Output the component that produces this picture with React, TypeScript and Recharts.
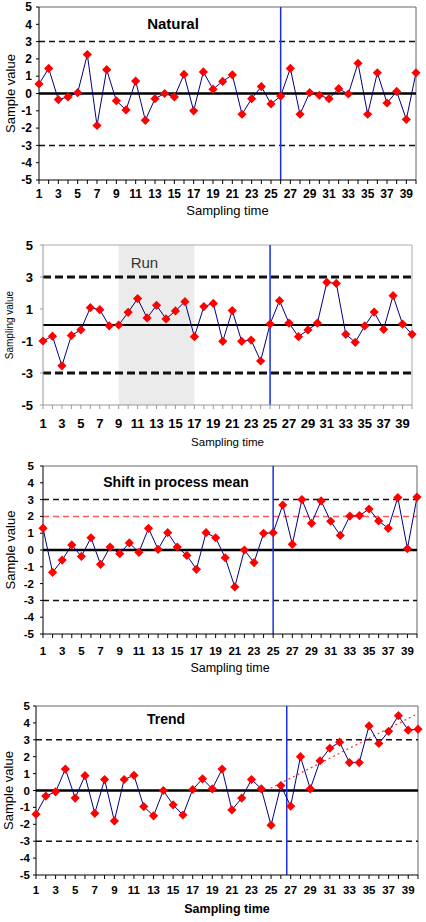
import React from 'react';
import { LineChart, Line, XAxis, YAxis, ReferenceLine, ReferenceArea, Label } from 'recharts';

// sampling times shared by all four control charts
const TIME = [
  1, 2, 3, 4, 5, 6, 7, 8, 9, 10, 11, 12, 13, 14, 15, 16, 17, 18, 19, 20,
  21, 22, 23, 24, 25, 26, 27, 28, 29, 30, 31, 32, 33, 34, 35, 36, 37, 38, 39, 40,
];

const Y_TICKS = [-5, -4, -3, -2, -1, 0, 1, 2, 3, 4, 5];
const Y_TICKS_ODD = [-5, -3, -1, 1, 3, 5];

const NATURAL = [
  0.55, 1.45, -0.35, -0.2, 0.05, 2.25, -1.85, 1.38, -0.42, -0.95,
  0.72, -1.55, -0.3, 0.0, -0.2, 1.1, -1.0, 1.25, 0.25, 0.7,
  1.08, -1.2, -0.3, 0.4, -0.6, -0.15, 1.45, -1.2, 0.05, -0.1,
  -0.3, 0.28, -0.03, 1.75, -1.2, 1.2, -0.55, 0.12, -1.5, 1.2,
];

const RUN = [
  -1.0, -0.7, -2.55, -0.65, -0.3, 1.08, 0.96, -0.05, 0.0, 0.79,
  1.65, 0.44, 1.23, 0.38, 0.88, 1.46, -0.73, 1.15, 1.35, -1.02,
  0.9, -1.02, -0.94, -2.25, 0.06, 1.52, 0.12, -0.73, -0.31, 0.12,
  2.67, 2.6, -0.58, -1.08, -0.06, 0.81, -0.27, 1.83, 0.06, -0.58,
];

const SHIFT = [
  1.3, -1.33, -0.6, 0.3, -0.38, 0.73, -0.85, 0.18, -0.22, 0.42,
  -0.14, 1.29, 0.04, 1.03, 0.18, -0.32, -1.15, 1.03, 0.73, -0.46,
  -2.2, 0.0, -0.75, 0.99, 1.03, 2.68, 0.34, 3.0, 1.59, 2.92,
  1.71, 0.87, 2.02, 2.05, 2.44, 1.73, 1.29, 3.12, 0.08, 3.15,
];

const TREND = [
  -1.4, -0.33, -0.08, 1.27, -0.45, 0.88, -1.35, 0.65, -1.8, 0.65,
  0.9, -0.95, -1.5, 0.0, -0.85, -1.45, 0.06, 0.69, 0.1, 1.27,
  -1.15, -0.45, 0.65, 0.1, -2.05, 0.29, -0.93, 2.0, 0.1, 1.76,
  2.5, 2.86, 1.65, 1.65, 3.82, 2.78, 3.5, 4.43, 3.57, 3.63,
];

// fitted trend line end points (time, value)
const TREND_FIT = [
  { x: 24.5, y: 0 },
  { x: 39.7, y: 4.47 },
];

const FONT = '"Liberation Sans", Arial, sans-serif';

const Diamond = (props: any) => {
  const { cx, cy } = props;
  if (cx == null || cy == null) return null;
  const r = 4.6;
  return (
    <polygon
      key={`d-${cx}`}
      points={`${cx},${cy - r} ${cx + r},${cy} ${cx},${cy + r} ${cx - r},${cy}`}
      fill="#ff0000"
    />
  );
};

interface PanelProps {
  top: number;
  height: number;
  values: number[];
  yTicks: number[];
  yWidth: number;
  marginTop: number;
  marginRight: number;
  xHeight: number;
  changeAt: number;
  tickFont: number;
  tickGap: number;
  yTickGap: number;
  axisColor: string;
  borderColor: string;
  xTitle: string;
  xTitleFont: number;
  xTitleBold?: boolean;
  xTitleOffset: number;
  yTitle: string;
  yTitleFont: number;
  yTitleX: number;
  limitWidth: number;
  limitDash: string;
  zeroWidth: number;
  title?: string;
  titleX?: number;
  titleY?: number; // centre of the title, relative to the panel
  titleFont?: number;
  children?: React.ReactNode;
}

const ControlChart: React.FC<PanelProps> = (p) => {
  const data = TIME.map((t, i) => ({ t, v: p.values[i] }));
  return (
    <div style={{ position: 'absolute', left: 0, top: p.top, width: 426, height: p.height }}>
      <LineChart
        width={426}
        height={p.height}
        data={data}
        margin={{ top: p.marginTop, right: p.marginRight, left: 0, bottom: 0 }}
      >
        {p.children}
        <XAxis
          dataKey="t"
          type="number"
          domain={[1, 40]}
          ticks={TIME}
          interval={0}
          height={p.xHeight}
          tickSize={4}
          tickMargin={p.tickGap}
          tickFormatter={(v: number) => (v % 2 === 1 ? String(v) : '')}
          tick={{ fontSize: p.tickFont, fontWeight: 'bold', fill: '#000', fontFamily: FONT }}
          axisLine={{ stroke: p.axisColor, strokeWidth: 1 }}
          tickLine={{ stroke: p.axisColor }}
          label={
            <Label
              value={p.xTitle}
              position="insideBottom"
              offset={p.xTitleOffset}
              style={{
                fontSize: p.xTitleFont,
                fontWeight: p.xTitleBold ? 'bold' : 'normal',
                fill: '#000',
                fontFamily: FONT,
              }}
            />
          }
        />
        <YAxis
          type="number"
          domain={[-5, 5]}
          ticks={p.yTicks}
          interval={0}
          width={p.yWidth}
          tickSize={3}
          tickMargin={p.yTickGap}
          tick={{ fontSize: p.tickFont, fontWeight: 'bold', fill: '#000', fontFamily: FONT }}
          axisLine={{ stroke: p.axisColor, strokeWidth: 1 }}
          tickLine={{ stroke: p.axisColor }}
          label={
            <Label
              value={p.yTitle}
              angle={-90}
              position="insideLeft"
              offset={p.yTitleX}
              style={{ textAnchor: 'middle', fontSize: p.yTitleFont, fill: '#000', fontFamily: FONT }}
            />
          }
        />
        <ReferenceLine y={5} stroke={p.borderColor} strokeWidth={1} />
        <ReferenceLine x={40} stroke={p.borderColor} strokeWidth={1} />
        <ReferenceLine y={3} stroke="#111" strokeWidth={p.limitWidth} strokeDasharray={p.limitDash} />
        <ReferenceLine y={-3} stroke="#111" strokeWidth={p.limitWidth} strokeDasharray={p.limitDash} />
        <ReferenceLine y={0} stroke="#000" strokeWidth={p.zeroWidth} />
        <ReferenceLine x={p.changeAt} stroke="#1a2fe0" strokeWidth={1.5} />
        <Line
          type="linear"
          dataKey="v"
          stroke="#000080"
          strokeWidth={1}
          dot={Diamond}
          isAnimationActive={false}
        />
      </LineChart>
      {p.title && (
        <div
          style={{
            position: 'absolute',
            left: p.titleX,
            top: (p.titleY ?? 0) - (p.titleFont ?? 14) / 2,
            transform: 'translateX(-50%)',
            fontFamily: FONT,
            fontWeight: 'bold',
            fontSize: p.titleFont,
            lineHeight: 1,
            whiteSpace: 'nowrap',
          }}
        >
          {p.title}
        </div>
      )}
    </div>
  );
};

export default function App() {
  return (
    <div
      style={{
        position: 'absolute',
        left: 0,
        top: 0,
        width: 426,
        height: 922,
        background: '#fff',
        fontFamily: FONT,
      }}
    >
      <ControlChart
        top={0}
        height={222}
        values={NATURAL}
        yTicks={Y_TICKS}
        yWidth={39}
        marginTop={7}
        marginRight={10}
        xHeight={42}
        changeAt={26}
        tickFont={12}
        tickGap={5}
        yTickGap={4}
        axisColor="#000"
        borderColor="#666"
        xTitle="Sampling time"
        xTitleFont={13}
        xTitleOffset={7.5}
        yTitle="Sample value"
        yTitleFont={13}
        yTitleX={10}
        limitWidth={1.5}
        limitDash="6 4"
        zeroWidth={2.5}
        title="Natural"
        titleX={173}
        titleY={23}
        titleFont={15}
      />
      <ControlChart
        top={232}
        height={218}
        values={RUN}
        yTicks={Y_TICKS_ODD}
        yWidth={43}
        marginTop={13}
        marginRight={14}
        xHeight={45}
        changeAt={25}
        tickFont={13}
        tickGap={10}
        yTickGap={7}
        axisColor="#999"
        borderColor="#aaa"
        xTitle="Sampling time"
        xTitleFont={11.5}
        xTitleOffset={4.5}
        yTitle="Sampling value"
        yTitleFont={10}
        yTitleX={9}
        limitWidth={3}
        limitDash="8 4"
        zeroWidth={2}
      >
        <ReferenceArea
          x1={9}
          x2={17}
          y1={-5}
          y2={5}
          fill="#ebebeb"
          fillOpacity={1}
          stroke="none"
          label={{
            value: 'Run',
            position: 'insideTopLeft',
            offset: 12,
            style: { fontSize: 15, fill: '#333', fontFamily: FONT },
          }}
        />
      </ControlChart>
      <ControlChart
        top={455}
        height={220}
        values={SHIFT}
        yTicks={Y_TICKS}
        yWidth={43}
        marginTop={11}
        marginRight={9}
        xHeight={41}
        changeAt={25}
        tickFont={11.5}
        tickGap={9}
        yTickGap={6}
        axisColor="#000"
        borderColor="#666"
        xTitle="Sampling time"
        xTitleFont={12.5}
        xTitleOffset={3}
        yTitle="Sample value"
        yTitleFont={13}
        yTitleX={10}
        limitWidth={1.5}
        limitDash="6 4"
        zeroWidth={2.5}
        title="Shift in process mean"
        titleX={176}
        titleY={27}
        titleFont={14}
      >
        <ReferenceLine y={2} stroke="#ff5a5a" strokeWidth={1.5} strokeDasharray="6 4" />
      </ControlChart>
      <ControlChart
        top={692}
        height={230}
        values={TREND}
        yTicks={Y_TICKS}
        yWidth={36}
        marginTop={14}
        marginRight={8}
        xHeight={47}
        changeAt={26.6}
        tickFont={11.5}
        tickGap={7}
        yTickGap={3}
        axisColor="#000"
        borderColor="#666"
        xTitle="Sampling time"
        xTitleFont={12.5}
        xTitleBold
        xTitleOffset={9}
        yTitle="Sample value"
        yTitleFont={13}
        yTitleX={8}
        limitWidth={1.5}
        limitDash="6 4"
        zeroWidth={2.5}
        title="Trend"
        titleX={166}
        titleY={27}
        titleFont={14}
      >
        <ReferenceLine
          segment={TREND_FIT}
          stroke="#ff3030"
          strokeWidth={1.2}
          strokeDasharray="2 3"
        />
      </ControlChart>
    </div>
  );
}
